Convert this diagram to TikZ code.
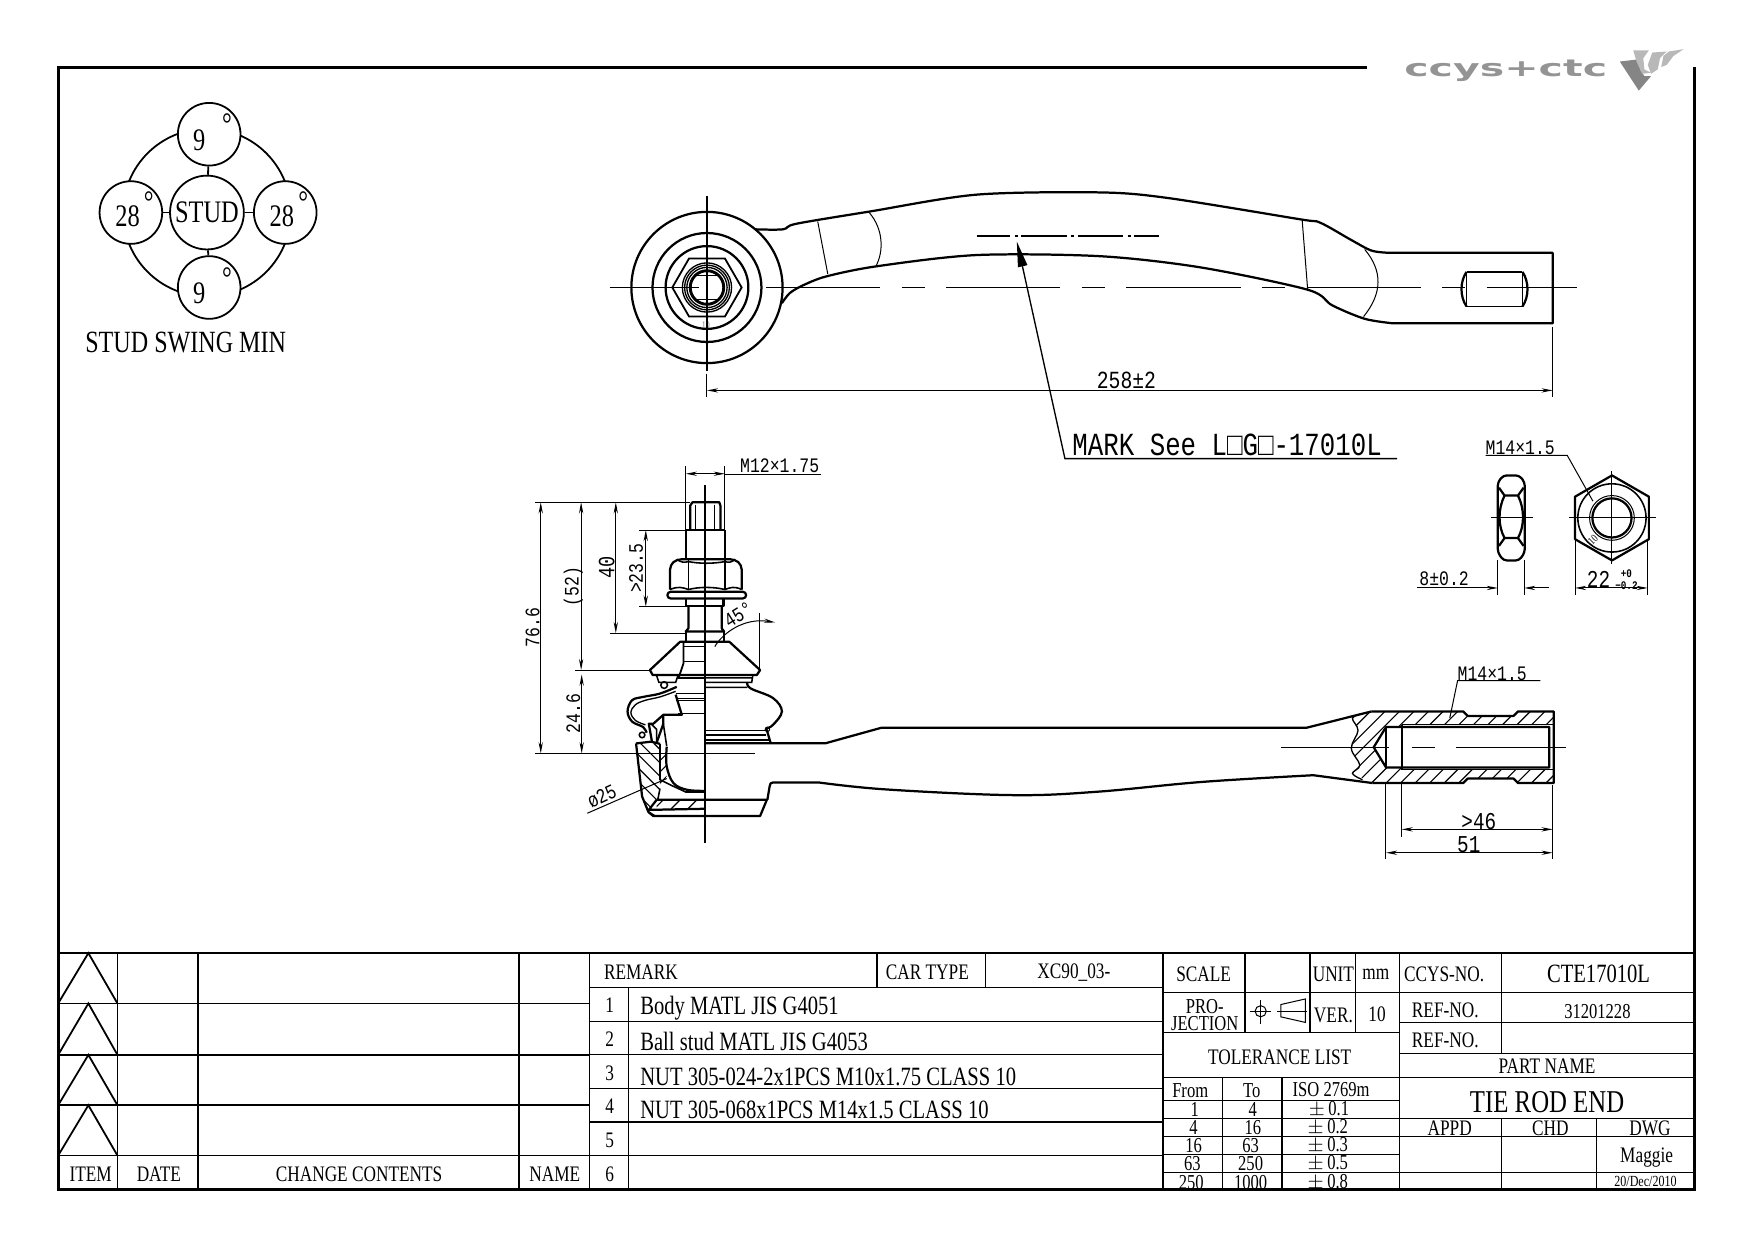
\documentclass[tikz,border=0pt]{standalone}
\usepackage{fontspec}
\setmainfont{Liberation Serif}[FakeStretch=0.78]
\newfontfamily\cadfont{Liberation Mono}[FakeStretch=0.8]
\newfontfamily\logofont{DejaVu Sans Bold}[FakeStretch=1.75]
\usetikzlibrary{arrows.meta}

\begin{document}
\begin{tikzpicture}
[x=0.5pt,y=-0.5pt,
  frameLine/.style={line width=1.25pt},%
  tblLine/.style={line width=0.8pt},%
  tblThin/.style={line width=0.55pt},%
  objLine/.style={line width=1pt,line join=round},%
  thinLine/.style={line width=0.45pt},%
  hatchLine/.style={line width=0.5pt},%
  dimLine/.style={thinLine,<->,>={Stealth[length=5pt,width=1.9pt]}},%
  leadLine/.style={thinLine,->,>={Stealth[length=5pt,width=1.9pt]}},%
  tblText/.style={inner sep=0pt,font=\fontsize{9.9}{12}\selectfont},%
  tblSmall/.style={inner sep=0pt,font=\fontsize{9.5}{9.5}\selectfont},%
  cadText/.style={inner sep=0pt,font=\cadfont\fontsize{9.2}{9}\selectfont},%
  cadBig/.style={inner sep=0pt,font=\cadfont\fontsize{10.8}{11}\selectfont},%
  cadRot/.style={cadText,rotate=90},%
  swingDecorate/.style={shape=circle,draw,line width=0.8pt,fill=white,inner sep=0pt},%
  swingText/.style={inner sep=0pt,font=\fontsize{14}{14}\selectfont}]
\useasboundingbox (0,0) rectangle (1568,1108.5);

%% sheet frame
\draw[frameLine] (1222,60) -- (52,60) -- (52,1063) -- (1515,1063) -- (1515,60);
\draw[frameLine] (52,852) -- (1515,852);

%% logo
\node (logoText) at (1346,63) [inner sep=0pt,text=black!42,font=\logofont\fontsize{10.5}{10}\selectfont] {ccys+ctc};
\fill[black!48] (1448,55) -- (1465,53) -- (1466,62) -- (1470,68) -- (1476,68) -- (1465,81) -- cycle;
\fill[black!28] (1460,45) -- (1474,45) -- (1469,52) -- (1470,62) -- (1476,65) -- (1468,66) -- (1463,55) -- cycle;
\fill[black!28] (1477,47) -- (1490,46) -- (1484,52) -- (1482,62) -- (1476,66) -- (1473,58) -- cycle;
\fill[black!28] (1492,46) -- (1505,44) -- (1496,50) -- (1490,58) -- (1485,60) -- (1487,50) -- cycle;

%% change table
\foreach \ya/\yb in {852/897, 897/943, 943/988, 988/1033}
{
  \draw[tblLine] (52,\yb) -- (79,\ya) -- (105,\yb);
  \draw[tblLine] (52,\yb) -- (527,\yb);
}
\foreach \x in {105, 177, 464, 527}
{
  \draw[tblLine] (\x,852) -- (\x,1063);
}
%% remark table
\draw[tblThin] (527,883) -- (1040,883);
\foreach \y in {913, 943, 973, 1003, 1033}
{
  \draw[tblThin] (527,\y) -- (1040,\y);
}
\draw[tblThin] (562,883) -- (562,1063);
\draw[tblThin] (784,852) -- (784,883);
\draw[tblThin] (881,852) -- (881,883);
%% tolerance table
\draw[tblLine] (1040,852) -- (1040,1063);
\draw[tblLine] (1251,852) -- (1251,1063);
\draw[tblThin] (1040,887) -- (1251,887);
\draw[tblThin] (1040,923) -- (1251,923);
\foreach \y in {963, 984, 1000, 1016, 1032, 1048}
{
  \draw[tblThin] (1040,\y) -- (1251,\y);
}
\foreach \x in {1113, 1171, 1212}
{
  \draw[tblThin] (\x,852) -- (\x,923);
}
\draw[tblThin] (1093,963) -- (1093,1063);
\draw[tblThin] (1146,963) -- (1146,1063);
%% title block
\foreach \y in {887, 914, 941.5, 963, 1000, 1016, 1048}
{
  \draw[tblThin] (1251,\y) -- (1515,\y);
}
\draw[tblThin] (1342,852) -- (1342,941.5);
\draw[tblThin] (1342,1000) -- (1342,1063);
\draw[tblThin] (1427,1000) -- (1427,1063);
%% projection symbol
\draw[thinLine] (1117,904) -- (1136,904) (1127,894) -- (1127,915);
\draw[thinLine] (1127,904) circle (5);
\draw[thinLine] (1145,898) -- (1167,893) -- (1167,914) -- (1145,909) -- cycle;
\draw[thinLine] (1142,904) -- (1168,904);

%% table texts
\foreach \nodename/\x/\y/\txt in {
  txtItem/81/1050/ITEM, txtDate/142/1050/DATE, txtChange/321/1050/CHANGE CONTENTS,
  txtName/496/1050/NAME, txtRemark/573/869/REMARK, txtCar/829/869/CAR TYPE,
  txtCarval/960/869/XC90\_03-, txtNa/545/899/1, txtNb/545/929/2, txtNc/545/959/3,
  txtNd/545/989/4, txtNe/545/1019/5, txtNf/545/1050/6,
  txtScale/1076/871/SCALE, txtUnit/1192/871/UNIT, txtMm/1230/871/mm,
  txtVer/1192/908/VER., txtTen/1231/907/10, txtCcys/1291/871/CCYS-NO.,
  txtRefa/1292/903/REF-NO., txtRefb/1292/930/REF-NO., txtTol/1144/945/TOLERANCE LIST,
  txtPart/1383/953/PART NAME, txtAppd/1296/1009/APPD, txtChd/1386/1009/CHD,
  txtDwg/1475/1009/DWG, txtMaggie/1472/1035/Maggie}
{
  \node (\nodename) at (\x,\y) [tblText] {\txt};
}
\foreach \nodename/\y/\txt in {
  txtBody/901/Body MATL JIS G4051, txtBall/931/Ball stud MATL JIS G4053,
  txtNutm/963/NUT 305-024-2x1PCS M10x1.75 CLASS 10, txtNutn/992/NUT 305-068x1PCS M14x1.5 CLASS 10}
{
  \node (\nodename) at (572,\y) [tblText,anchor=west,font=\fontsize{11.8}{12}\selectfont] {\txt};
}
\node (txtPro) at (1077,907) [inner sep=0pt,align=center,font=\fontsize{9.5}{7.6}\selectfont] {PRO-\\JECTION};
\node (txtCte) at (1429,871) [inner sep=0pt,font=\fontsize{11.8}{12}\selectfont] {CTE17010L};
\node (txtRefval) at (1428,904) [tblSmall] {31201228};
\node (txtTitle) at (1383,985) [inner sep=0pt,font=\fontsize{14.2}{15}\selectfont] {TIE ROD END};
\node (txtDateval) at (1471,1056) [inner sep=0pt,font=\fontsize{6.9}{7}\selectfont] {20/Dec/2010};
\foreach \nodename/\x/\y/\txt in {
  tolFrom/1064/975/From, tolTo/1119/975/To, tolIso/1190/974/ISO 2769m,
  tolAa/1068/992/1, tolAb/1120/992/4, tolAc/1188/992/{$\pm$\,0.1},
  tolBa/1067/1008/4, tolBb/1120/1008/16, tolBc/1187/1008/{$\pm$\,0.2},
  tolCa/1067/1024/16, tolCb/1118/1024/63, tolCc/1187/1024/{$\pm$\,0.3},
  tolDa/1066/1040/63, tolDb/1118/1040/250, tolDc/1187/1040/{$\pm$\,0.5},
  tolEa/1065/1057/250, tolEb/1118/1057/1000, tolEc/1187/1057/{$\pm$\,0.8}}
{
  \node (\nodename) at (\x,\y) [tblSmall] {\txt};
}

%% stud swing diagram
\draw[line width=0.8pt] (185,190) circle (75);
\foreach \nodename/\x/\y in {
  swingTop/187/120, swingLeft/117/190, swingRight/255/190, swingBot/187/257}
{
  \node (\nodename) at (\x,\y) [swingDecorate,minimum size=28pt] {};
}
\node (swingStud) at (185,190) [swingDecorate,minimum size=33pt] {};
\path
\foreach \endnode in {swingTop, swingLeft, swingRight, swingBot}
{
  (swingStud) edge[line width=0.8pt] (\endnode)
};
\foreach \nodename/\x/\y/\txt in {
  numTop/178/125/9, numLeft/114/193/28, numRight/252/193/28, numBot/178/262/9,
  numStud/185/190/STUD, degTop/203/111/°, degLeft/133/181/°, degRight/271/181/°, degBot/203/249/°}
{
  \node (\nodename) at (\x,\y) [swingText] {\txt};
}
\node (swingLabel) at (166,306) [inner sep=0pt,font=\fontsize{13.8}{14}\selectfont] {STUD SWING MIN};

%% top view, eye
\foreach \r in {67.6, 48.7, 37}
{
  \draw[objLine] (632,257) circle (\r);
}
\foreach \r in {22, 20, 18}
{
  \draw[line width=0.6pt] (632,257) circle (\r);
}
\draw[line width=1.3pt] (632,257) circle (15);
\draw[thinLine] (620,246) -- (644,246) (620,268) -- (644,268);
\draw[line width=0.8pt] (601,257) -- (616,231) -- (648,231) -- (663,257) -- (648,283) -- (616,283) -- cycle;
\node (txtEyeTen) at (631,291) [inner sep=0pt,text=black!55,font=\fontsize{4.5}{5}\selectfont] {10};
%% top view, arm
\draw[objLine] plot[smooth,tension=.5] coordinates {(675,205) (700,205) (712,200) (778,189) (873,174) (983,172)
  (1044,177) (1162,196) (1180,199) (1207,214) (1226,224) (1242,226)}
  -- (1388,226) -- (1388,289) -- (1245,289)
  -- plot[smooth,tension=.5] coordinates {(1245,289) (1220,285) (1191,273) (1169,259) (1073,239) (983,229)
  (873,228) (784,238) (739,247) (718,255) (706,262) (699,271)};
\draw[thinLine] (731,198) -- (740,245);
\draw[thinLine] (777,190) .. controls (790,205) and (790,225) .. (783,238);
\draw[thinLine] (1164,196) -- (1169,259);
\draw[thinLine] (1220,223) .. controls (1236,242) and (1236,262) .. (1219,283);
%% top view, slot
\draw[line width=0.7pt] (1311,243) -- (1361,243) (1311,274) -- (1361,274) (1311,243) -- (1311,274) (1361,243) -- (1361,274);
\draw[objLine] (1311,243) .. controls (1305,252) and (1305,265) .. (1311,274);
\draw[objLine] (1361,243) .. controls (1367,252) and (1367,265) .. (1361,274);
%% centre lines
\draw[line width=.6pt] (632,175) -- (632,332);
\draw[line width=.6pt] (545,257) -- (625,257);
\draw[line width=.6pt,dash pattern=on 51pt off 9.5pt on 10.5pt off 9.5pt] (685,257) -- (1410,257);
\draw[line width=.6pt,dash pattern=on 15pt off 2pt on 1.5pt off 1.5pt on 20.5pt off 1.5pt on 1.5pt off 2pt on 20pt off 2pt on 1.5pt off 1.5pt on 15pt] (873,211) -- (1036,211);
%% mark leader
\coordinate (markTip) at (909,216);
\coordinate (markBend) at (952,410);
\draw[line width=.6pt] (1249,410) -- (markBend) -- (914,238);
\fill (markTip) -- (910,239) -- (918.5,237) -- cycle;
\node (txtMark) at (1097,398) [inner sep=0pt,font=\cadfont\fontsize{14.4}{14}\selectfont] {MARK See L□G□-17010L};
%% length
\draw[thinLine] (632,334) -- (632,355);
\draw[thinLine] (1388,292) -- (1388,355);
\draw[dimLine] (632,349) -- (1388,349);
\node (txtLength) at (1007,340) [cadBig,font=\cadfont\fontsize{11}{11}\selectfont] {258±2};

%% lock nut
\draw[objLine,rounded corners=1.5pt] (1344,425) -- (1358,425) -- (1363,431) -- (1363,494) -- (1358,501) -- (1344,501) -- (1339,494) -- (1339,431) -- cycle;
\draw[objLine] (1340,436) -- (1345,443) -- (1357,443) -- (1362,436);
\draw[objLine] (1340,488) -- (1345,481) -- (1357,481) -- (1362,488);
\draw[objLine] (1345,443) .. controls (1339,455) and (1339,470) .. (1345,481);
\draw[objLine] (1357,443) .. controls (1363,455) and (1363,470) .. (1357,481);
\draw[thinLine] (1333,463) -- (1370,463);
\draw[objLine] (1441,425) -- (1474,444) -- (1474,482) -- (1441,501) -- (1408,482) -- (1408,444) -- cycle;
\draw[line width=.7pt] (1441,463) circle (30.5);
\draw[thinLine] (1441,463) circle (20);
\draw[line width=1pt] (1441,463) circle (17.5);
\draw[thinLine] (1403,463) -- (1480,463) (1441,421) -- (1441,504);
\node (txtNutTen) at (1424,483) [inner sep=0pt,rotate=45,font=\fontsize{5}{5}\selectfont] {10};
\node (txtNutThread) at (1359,400) [cadText] {M14×1.5};
\draw[thinLine] (1328,407) -- (1401,407) -- (1424,448);
\draw[thinLine] (1339,501) -- (1339,531.5) (1362.5,501) -- (1362.5,531.5);
\draw[leadLine] (1267,525.6) -- (1339,525.6);
\draw[leadLine] (1385,525.6) -- (1362.5,525.6);
\node (txtNutWidth) at (1291,517.5) [cadText] {8±0.2};
\draw[thinLine] (1408,483) -- (1408,531.5) (1473,483) -- (1473,531.5);
\draw[dimLine] (1408,525.6) -- (1473,525.6);
\node (txtNutFlat) at (1429,518) [cadBig] {22};
\node (txtNutTol) at (1454,518) [inner sep=0pt,align=center,font=\cadfont\bfseries\fontsize{5.2}{5.5}\selectfont] {+0\\−0.2};

%% side view, threaded end
\begin{scope}
\clip (1226,636) -- (1308,636) -- (1312,640) -- (1353,640) -- (1357,636) -- (1389,636) -- (1389,648) -- (1253,648) -- (1253,650) -- (1239,650) -- (1228,668)
  -- (1239,686) -- (1253,686) -- (1253,688) -- (1389,688) -- (1389,700) -- (1357,700) -- (1353,696) -- (1312,696) -- (1308,700) -- (1227,700) -- (1209,691)
  -- (1215.6,684) -- (1208,669) -- (1214,653) -- (1209,642) -- cycle;
\foreach \x in {1128, 1141, ..., 1440}
{
  \draw[hatchLine] (\x,720) -- ++(90,-90);
}
\end{scope}
\draw[objLine] (1226,636) -- (1308,636) -- (1312,640) -- (1353,640) -- (1357,636) -- (1389,636) -- (1389,700) -- (1357,700) -- (1353,696) -- (1312,696) -- (1308,700) -- (1227,700);
\draw[line width=.6pt] plot[smooth,tension=.6] coordinates {(1218,638) (1209,642) (1214,653) (1208,669) (1215.6,684) (1209,691.4) (1218,697)};
\draw[objLine] (1385,650) -- (1239,650) -- (1228,668) -- (1239,686) -- (1385,686) -- cycle;
\draw[objLine] (1239,650) -- (1239,686);
\draw[objLine] (1253,648) -- (1253,688);
\draw[thinLine] (1253,648) -- (1389,648) (1253,688) -- (1389,688);
\draw[line width=.6pt] (1145,668) -- (1242,668) (1262,668) -- (1283,668) (1302,668) -- (1400,668);
%% side view, rod
\draw[objLine] (630,664.5) -- (737.7,664.5) -- (787.8,650.6) -- (1167.8,650.6) -- (1226,636);
\draw[objLine] (686,715) -- (688,703) .. controls (688.3,700.5) and (689,699.5) .. (691,699.5) -- (732,699.5)
  -- plot[smooth,tension=.6] coordinates {(732,699.5) (792,705.7) (905,710.8) (980.4,707.8) (1074.5,699) (1174,693)} -- (1227,700);
\draw[thinLine] (1253,700) -- (1253,748) (1239,700) -- (1239,768) (1388,702) -- (1388,768);
\draw[dimLine] (1253,741.4) -- (1388,741.4);
\draw[dimLine] (1239,762.3) -- (1388,762.3);
\node (txtGtSix) at (1322,734) [cadBig] {>46};
\node (txtFifty) at (1313,755) [cadBig] {51};
\node (txtRodThread) at (1334,602) [cadText] {M14×1.5};
\draw[thinLine] (1377,608.5) -- (1303,608.5) -- (1296,642);

%% side view, stud and nut
\draw[line width=.7pt] (630.3,434) -- (630.3,754);
\draw[objLine] (617,474) -- (617,452) -- (619,449) -- (643,449) -- (644,452) -- (644,474);
\draw[line width=.6pt] (622,451) -- (622,474) (638.5,451) -- (638.5,474);
\draw[line width=.7pt] (613,474) -- (648,474) (613,474) -- (613,500) (648,474) -- (648,500);
\draw[objLine,rounded corners=2pt] (599,527) -- (599,505) -- (605,500) -- (657,500) -- (663,505) -- (663,527);
\draw[line width=.7pt] (615.4,500) -- (615.4,527) (648,500) -- (648,527);
\draw[line width=.7pt] (599,527) .. controls (606,524) and (610,525) .. (615.4,527) .. controls (625,524.5) and (638,524.5) .. (648,527) .. controls (653,525) and (657,524) .. (663,527);
\draw[line width=.7pt] (605,500) .. controls (609,503) and (612,503) .. (615.4,502) .. controls (625,504) and (638,504) .. (648,502) .. controls (651,503) and (654,503) .. (657,500);
\draw[objLine,rounded corners=1.5pt] (596.6,529) rectangle (667,535);
\draw[objLine] (613.3,535) -- (613.3,542) -- (646.7,542) -- (646.7,535);
\draw[objLine] (615.4,542) -- (615.4,561.7) -- (613,564.6) -- (647.3,564.6) -- (645.2,561.7) -- (645.2,542);
\draw[line width=.7pt] (613,564.6) -- (613,573.6) (647.3,564.6) -- (647.3,573.6);
%% boot cap
\draw[objLine] (608,573.7) -- (652,573.7) -- (679.5,599) -- (676.5,603.5) -- (583.5,603.5) -- (581,599) -- cycle;
\draw[line width=.8pt] (611,575) -- (611,593) -- (606.5,606.4);
\draw[line width=.7pt] (611,578) -- (630,578) (611,591.5) -- (630,591.5);
\draw[line width=.7pt] (606,606) -- (630,606) (604,620) -- (630,620);
\draw[thinLine] (604,624) -- (630,624) (604,626) -- (630,626) (606,638) -- (630,638);
%% boot, right half
\draw[line width=.7pt] (630,606) -- (672,606) (673,603.5) -- (672,610) -- (630,610) (630,614.5) -- (668,614.5);
\draw[objLine] plot[smooth,tension=.6] coordinates {(668,610) (671,615.4) (691,624) (699,636) (691,648) (685.5,651)};
\draw[line width=.7pt] (630,653) -- (685,653) (630,657) -- (685,657) (630,661.6) -- (688,661.6);
\draw[objLine] (685,651) -- (689,664.5);
\draw[thinLine] (686,652) circle (2);
%% boot, left half
\draw[line width=.7pt] (587,604) -- (589,610) -- (604,610) -- (606,604);
\draw[line width=.7pt] (593.7,612.4) circle (3);
\draw[objLine] plot[smooth,tension=.6] coordinates {(605,614) (590,620) (575,623) (565,626) (561,636) (565,645) (575,650) (578,655)};
\draw[line width=.6pt] plot[smooth,tension=.6] coordinates {(604,618) (590,623) (577,626) (568,630) (564,637) (568,644) (577,648)};
%% socket
\draw[objLine] (604,621) -- (609.5,639) -- (593,639) -- (584,647) -- (580,647) -- (583,664) (593,639) -- (593,647) -- (587,664);
\draw[line width=.7pt] (582,647) -- (587,652) -- (587,664) (593,647) -- (596,667);
\draw[line width=.7pt] (574,657) circle (2.5);
\draw[objLine] plot[smooth,tension=.6] coordinates {(596,667.5) (596,685) (602,700) (614,706) (630,707)};
\draw[line width=.7pt] (590,665) -- (590,697) -- (600,702) -- (613,708) -- (630,708);
%% housing section
\begin{scope}
\clip (568.6,664.6) -- (590,664.6) -- (590,705) -- (587,715) -- (579.7,727) -- (574,712) -- cycle;
\foreach \x in {510, 522, ..., 600}
{
  \draw[hatchLine] (\x,650) -- ++(90,90);
}
\end{scope}
\begin{scope}
\clip (590,665) -- (596,667.5) -- (596,695) -- (590,705) -- cycle;
\foreach \x in {560, 570, ..., 620}
{
  \draw[hatchLine] (\x,710) -- ++(50,-50);
}
\end{scope}
\begin{scope}
\clip (587,715) rectangle (630,722.7);
\foreach \x in {585, 600, ..., 630}
{
  \draw[hatchLine] (\x,723) -- ++(8,-8);
}
\end{scope}
\draw[objLine] (568.6,664.6) -- (574,712) -- (579.7,726) -- (584,729.5) -- (679.5,729.5) -- (685.5,715) -- (587,715);
\draw[objLine] (568.6,664.6) -- (582,663) -- (590,665) (587,715) -- (580,724) -- (630,723);
\draw[line width=.7pt] (588,715) -- (590,705) (580,726) -- (585,729);
%% dimensions, stud
\draw[thinLine] (613,417) -- (613,474) (648,417) -- (648,474);
\draw[dimLine] (613,423.5) -- (648,423.5);
\draw[thinLine] (648,423.8) -- (734,423.8);
\node (txtStudThread) at (697,416) [cadText] {M12×1.75};
\draw[thinLine] (478,449) -- (617,449);
\draw[thinLine] (478,673.5) -- (675,673.5);
\draw[dimLine] (483.4,449) -- (483.4,673.5);
\node (txtOverall) at (476,561) [cadRot] {76.6};
\draw[thinLine] (514,599.6) -- (580,599.6);
\draw[dimLine] (519.5,449) -- (519.5,599);
\node (txtFiftytwo) at (512.6,524.5) [cadRot] {(52)};
\draw[dimLine] (520,603) -- (520,673.5);
\node (txtBallHeight) at (512.6,638) [cadRot] {24.6};
\draw[thinLine] (545,566) -- (612,566);
\draw[dimLine] (550.5,449) -- (550.5,566);
\node (txtForty) at (542.4,507) [cadRot,font=\cadfont\fontsize{10.4}{10}\selectfont] {40};
\draw[thinLine] (571.3,473.8) -- (613,473.8) (571.3,542.4) -- (613,542.4);
\draw[dimLine] (577.3,473.8) -- (577.3,542.4);
\node (txtGtTwenty) at (568.6,508) [cadRot] {>23.5};
\draw[thinLine] (679,548) -- (679,599);
\draw[leadLine] (639,578) .. controls (646,566) and (665,552) .. (693,556.4);
\node (txtAngle) at (660,549.5) [cadText,rotate=32] {45°};
\draw[thinLine] (525,727) -- (596,696);
\node (txtBallDia) at (538,712) [cadText,rotate=25] {ø25};
\end{tikzpicture}
\end{document}
